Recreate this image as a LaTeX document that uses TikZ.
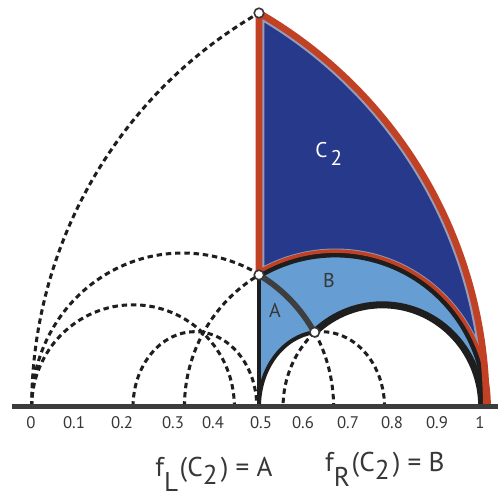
\documentclass[tikz,border=0pt]{standalone}
\usepackage{fontspec}
\setmainfont{PT Sans}
\definecolor{dblue}{RGB}{38,57,139}
\definecolor{lblue}{RGB}{102,157,211}
\definecolor{rred}{RGB}{193,65,37}
\definecolor{ink}{RGB}{30,30,30}
\definecolor{txt}{RGB}{55,55,55}
\definecolor{rim}{RGB}{150,156,185}
\definecolor{arcgray}{RGB}{62,62,62}
\definecolor{axisgray}{RGB}{60,60,60}
\begin{document}
\begin{tikzpicture}[x=10cm,y=10cm,
  dsh/.style={ink, line width=1.9pt, dash pattern=on 3.4pt off 2.4pt},
  dot/.style={circle, draw=txt, fill=white, line width=1pt, inner sep=0pt, minimum size=6pt},
  tick/.style={font=\fontsize{10.5}{12}\selectfont, text=txt, anchor=base, inner sep=0pt},
  formula/.style={font=\fontsize{17}{20}\selectfont, text=txt, anchor=base west, inner sep=0pt},
  region/.style={font=\fontsize{12.5}{14}\selectfont, text=txt, anchor=base, inner sep=0pt}]
\useasboundingbox (-0.0697,-0.1964) rectangle (1.0257,0.8946);

\coordinate (O) at (0,0);
\coordinate (H) at (0.5,0);
\coordinate (One) at (1,0);
\coordinate (T) at (0.5,0.866);
\coordinate (U) at (0.5,0.2898);
\coordinate (W) at (0.6224,0.1639);
\coordinate (AxL) at (-0.0433,0);
\coordinate (AxR) at (1.0257,0);
\coordinate (E6L) at (0.336,0);
\coordinate (E7L) at (0.223,0);
\coordinate (E2R) at (0.99,0);

% fills
\def\Ctwo{(U) -- (T) arc[start angle=60,end angle=0,radius=1] arc[start angle=0,end angle=120.4,x radius=0.332,y radius=0.336] -- cycle}
\fill[dblue] \Ctwo;
\begin{scope}
  \clip \Ctwo;
  \draw[rim, line width=6.8pt] \Ctwo;
\end{scope}
\fill[lblue] (U) arc[start angle=120.4,end angle=0,x radius=0.332,y radius=0.336] -- (E2R)
  arc[start angle=0,end angle=133,x radius=0.2185,y radius=0.2242] -- (W)
  arc[start angle=29,end angle=59.6,x radius=0.332,y radius=0.338] -- cycle;
\fill[lblue] (H) -- (U) arc[start angle=59.6,end angle=29,x radius=0.332,y radius=0.338]
  arc[start angle=96.5,end angle=180,x radius=0.138,y radius=0.165] -- cycle;

% dashed arcs
\draw[dsh] (O) arc[start angle=180,end angle=120,radius=1];
\draw[dsh] (O) arc[start angle=180,end angle=59.6,x radius=0.332,y radius=0.338];
\draw[dsh] (W) arc[start angle=29,end angle=0,x radius=0.332,y radius=0.338];
\draw[dsh] (E6L) arc[start angle=180,end angle=120.4,x radius=0.332,y radius=0.336];
\draw[dsh] (E7L) arc[start angle=180,end angle=0,x radius=0.136,y radius=0.165];
\draw[dsh] (O) arc[start angle=180,end angle=0,x radius=0.2229,y radius=0.2242];
\draw[dsh] (W) arc[start angle=96.5,end angle=0,x radius=0.138,y radius=0.165];
\draw[dsh] (W) arc[start angle=133,end angle=180,x radius=0.2185,y radius=0.2242];

% solid boundaries of A and B
\draw[ink, line width=2.2pt] (H) -- (U);
\draw[ink, line width=2.5pt] (H) arc[start angle=180,end angle=96.5,x radius=0.138,y radius=0.165];
\draw[ink, line width=4.4pt] (W) arc[start angle=133,end angle=0,x radius=0.2185,y radius=0.2242];
\draw[arcgray, line width=3.6pt] (U) arc[start angle=59.6,end angle=29,x radius=0.332,y radius=0.338];
\draw[ink, line width=3.1pt] (0.668,0) ++(120.6:0.3298 and 0.3338) arc[start angle=120.6,end angle=0,x radius=0.3298,y radius=0.3338];
\draw[rred, line width=2.2pt] (0.668,0) ++(119.8:0.3382 and 0.3422) arc[start angle=119.8,end angle=0,x radius=0.3382,y radius=0.3422];

% red boundary of C2
\draw[rred, line width=4.2pt, line join=round] (U) -- (T) arc[start angle=60,end angle=0,radius=1];

% axis
\draw[axisgray, line width=3.1pt] (AxL) -- (AxR);

% points
\node[dot] (Ud) at (U) {};
\node[dot] (Wd) at (W) {};
\node[dot] (Td) at (T) {};

% tick labels
\foreach \u/\l [count=\i] in {-0.0015/0, 0.093/0.1, 0.199/0.2, 0.3108/0.3, 0.3988/0.4, 0.5044/0.5, 0.5968/0.6, 0.6958/0.7, 0.7926/0.8, 0.8916/0.9, 0.9862/1}
  \node[tick] (tk\i) at (\u,-0.0477) {\l};

% region labels
\node[anchor=base west, text=white, font=\fontsize{13.3}{15}\selectfont, inner sep=0pt] (lc) at (0.6232,0.549) {C\kern2pt\raisebox{-5pt}{2}};
\node[region] (la) at (0.535,0.1973) {A};
\node[region] (lb) at (0.654,0.2633) {B};

% formulas
\node[formula] (fl) at (0.2715,-0.154) {f\raisebox{-9.5pt}{L}\kern1pt(C\raisebox{-5pt}{2}\kern2pt) = A};
\node[formula] (fr) at (0.645,-0.143) {f\raisebox{-9.5pt}{R}\kern1pt(C\raisebox{-5pt}{2}\kern2pt) = B};
\end{tikzpicture}
\end{document}
